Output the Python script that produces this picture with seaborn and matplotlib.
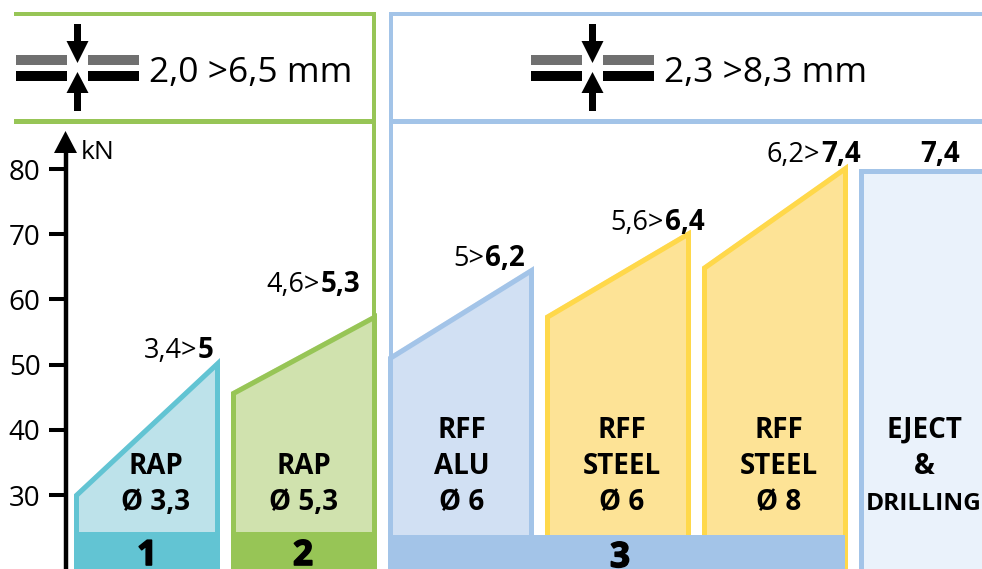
import matplotlib
matplotlib.use("Agg")
import matplotlib.pyplot as plt
from matplotlib.patches import Polygon, Rectangle
import matplotlib.patheffects as pe
import seaborn as sns

# panel data, forces in kN
panel_labels = [["RAP", "Ø 3,3"], ["RAP", "Ø 5,3"], ["RFF", "ALU", "Ø 6"],
                ["RFF", "STEEL", "Ø 6"], ["RFF", "STEEL", "Ø 8"], ["EJECT", "&", "DRILLING"]]
force_start = [30.1, 45.8, 51.2, 57.5, 65.0, 80.0]
force_end = [51.0, 57.9, 65.1, 70.7, 80.8, 80.0]
range_from = ["3,4>", "4,6>", "5>", "5,6>", "6,2>", ""]
range_to = ["5", "5,3", "6,2", "6,4", "7,4", "7,4"]
group_names = ["1", "2", "3"]
group_panels = [[0], [1], [2, 3, 4]]
y_ticks = [30, 40, 50, 60, 70, 80]
unit = "kN"
gap_text = ["2,0 >6,5 mm", "2,3 >8,3 mm"]

# colours
edge_colors = ["#62C4D3", "#97C556", "#A3C4E8", "#FFD84A", "#FFD84A", "#A3C4E8"]
fill_colors = ["#BDE2EA", "#D0E2AE", "#D1E0F3", "#FDE396", "#FDE396", "#EAF2FB"]
group_colors = ["#62C4D3", "#97C556", "#A3C4E8"]
GREEN = "#97C556"
BLUE = "#A3C4E8"
GREY = "#707070"

# layout, in pixels of the 982x569 picture
W, H = 982, 569
PX = 1 / 100
FIRST_X = 74
SLOT = 157
PANEL_W = 146 / SLOT
KN_80_PY = 169
KN_PX = 6.52
BOTTOM = 15
STROKE = 5
label_x = [156, 304, 462, 622, 779, 924]
force_x = [197, 320, 484, 664, 820, 920]
force_y = [358, 292, 266, 230, 162, 162]
band_top = [532, 532, 535]
band_trim = [0, 0, 3]
band_num_x = [147, 303, 620]
band_num_y = [565, 565, 567]

sns.set_theme(style="white")
plt.rcParams["font.family"] = ["Open Sans", "DejaVu Sans"]

fig = plt.figure(figsize=(W * PX, H * PX), dpi=100)
ax = fig.add_axes([0, 0, 1, 1])
ax.set_xlim(-FIRST_X / SLOT, (W - FIRST_X) / SLOT)
ax.set_ylim(80 - (H - KN_80_PY) / KN_PX, 80 + KN_80_PY / KN_PX)
ax.patch.set_alpha(0)


def kn_of(py):
    return 80 - (py - KN_80_PY) / KN_PX


# force panels, stroke is clipped to the panel so it sits inside the edge
for i in range(len(force_start)):
    xs = [i, i, i + PANEL_W, i + PANEL_W, i]
    ys = [BOTTOM, force_start[i], force_end[i], BOTTOM, BOTTOM]
    patch = Polygon(list(zip(xs, ys)), closed=True, facecolor=fill_colors[i], edgecolor="none", zorder=1)
    ax.add_patch(patch)
    sns.lineplot(x=xs, y=ys, sort=False, estimator=None, color=edge_colors[i],
                 linewidth=2 * STROKE * 0.72, ax=ax, zorder=2)
    ax.lines[-1].set_clip_path(patch)

# group bands along the bottom
for panels, color, band, trim in zip(group_panels, group_colors, band_top, band_trim):
    left = panels[0]
    right = panels[-1] + PANEL_W - trim / SLOT
    ax.fill_between([left, right], BOTTOM, kn_of(band), color=color, linewidth=0, zorder=3)

# y axis
ax.spines[["top", "right", "bottom"]].set_visible(False)
ax.spines["left"].set_position(("axes", 65.5 / W))
ax.spines["left"].set_linewidth(3.2)
ax.spines["left"].set_color("black")
ax.spines["left"].set_bounds(ax.get_ylim()[0], kn_of(150))
ax.set_xticks([])
ax.set_yticks(y_ticks)
ax.tick_params(axis="y", left=True, direction="out", length=12, width=2.9, pad=6, labelsize=20, color="black", labelcolor="black")
ax.grid(False)

# pixel overlay for the header frames and icons
top = fig.add_axes([0, 0, 1, 1])
top.set_xlim(0, W)
top.set_ylim(H, 0)
top.axis("off")


def box(x0, y0, x1, y1, color):
    top.add_patch(Rectangle((x0, y0), x1 - x0, y1 - y0, facecolor=color, edgecolor="none"))


def press_icon(left):
    cx = left + 61.5
    box(left, 55, left + 51, 65, GREY)
    box(left + 72, 55, left + 123, 65, GREY)
    box(left, 71, left + 51, 81, "black")
    box(left + 72, 71, left + 123, 81, "black")
    box(cx - 3.5, 24, cx + 3.5, 43, "black")
    box(cx - 3.5, 91, cx + 3.5, 111, "black")
    top.add_patch(Polygon([(cx - 11, 41), (cx + 11, 41), (cx, 63)], facecolor="black", edgecolor="none"))
    top.add_patch(Polygon([(cx - 11, 93), (cx + 11, 93), (cx, 72)], facecolor="black", edgecolor="none"))


# green frame
box(14, 12, 376, 16, GREEN)
box(14, 119, 376, 124, GREEN)
box(372, 12, 376.5, 320, GREEN)
# blue frame
box(389, 12, W, 16, BLUE)
box(389, 119, W, 124, BLUE)
box(389, 12, 393.5, 357, BLUE)

press_icon(16)
press_icon(531)
top.text(149, 82, gap_text[0], fontsize=25.5, color="black", ha="left", va="baseline")
top.text(664, 82, gap_text[1], fontsize=25.5, color="black", ha="left", va="baseline")

# arrow head on the axis and unit
top.add_patch(Polygon([(54, 153), (77, 153), (65.5, 131)], facecolor="black", edgecolor="none"))
top.text(81, 159, unit, fontsize=19, color="black", ha="left", va="baseline")

# panel names, DRILLING is narrower in the original lettering
for lines, lx in zip(panel_labels, label_x):
    first = 510 - 36 * (len(lines) - 1)
    for j, line in enumerate(lines):
        size = 17.6 if line == "DRILLING" else 20
        top.text(lx, first + 36 * j, line, fontsize=size, fontweight="bold", color="black", ha="center", va="baseline")

# force ranges
for a, b, fx, fy in zip(range_from, range_to, force_x, force_y):
    if a:
        top.text(fx, fy, a, fontsize=19.5, color="black", ha="right", va="baseline")
        top.text(fx + 1, fy, b, fontsize=20, fontweight="bold", color="black", ha="left", va="baseline")
    else:
        top.text(fx, fy, b, fontsize=20, fontweight="bold", color="black", ha="left", va="baseline")

# group numbers
for name, nx, ny in zip(group_names, band_num_x, band_num_y):
    top.text(nx, ny, name, fontsize=25, fontweight="bold", color="black", ha="center", va="baseline",
             path_effects=[pe.withStroke(linewidth=1.2, foreground="black")])

fig.savefig("out.png", dpi=100)
